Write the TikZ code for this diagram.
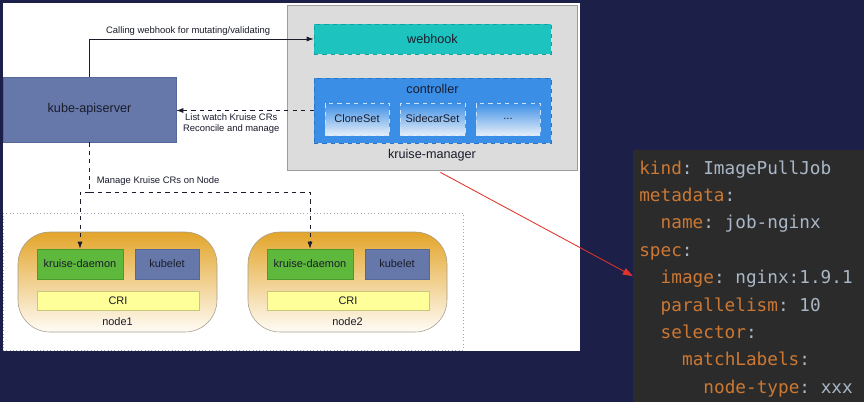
\documentclass[tikz,border=0pt]{standalone}
\usepackage{fontspec}
\setmainfont{Liberation Sans}
\setmonofont{DejaVu Sans Mono}
\usetikzlibrary{fit,arrows.meta}
\definecolor{navy}{HTML}{1C1F47}
\definecolor{ink}{HTML}{1A1C2C}
\definecolor{mgrgray}{HTML}{DCDCDC}
\definecolor{mgrline}{HTML}{9C9C9C}
\definecolor{hook}{HTML}{1CC3BF}
\definecolor{hookline}{HTML}{14A29E}
\definecolor{ctrl}{HTML}{3B8EE6}
\definecolor{ctrlline}{HTML}{2C74C4}
\definecolor{subbot}{HTML}{E4EEF9}
\definecolor{api}{HTML}{6678A9}
\definecolor{apiline}{HTML}{56679A}
\definecolor{daemon}{HTML}{5DB83B}
\definecolor{daemonline}{HTML}{4A9A2E}
\definecolor{cri}{HTML}{FFFF99}
\definecolor{criline}{HTML}{C9C77A}
\definecolor{pilltop}{HTML}{E3A52A}
\definecolor{pillbot}{HTML}{FFFCF6}
\definecolor{pillline}{HTML}{A59C8C}
\definecolor{codebg}{HTML}{2B2B2B}
\definecolor{ykey}{HTML}{CC7832}
\definecolor{yval}{HTML}{A9B7C6}
\definecolor{pointer}{HTML}{E0342A}
\newcommand\ykey[1]{\textcolor{ykey}{#1}}
\newcommand\yval[1]{\textcolor{yval}{#1}}

\begin{document}
\begin{tikzpicture}[x=0.025cm,y=-0.025cm,
  every node/.style={text=ink},
  every label/.style={inner sep=0pt},
  lbl/.style={font=\fontsize{9}{10}\selectfont},
  small/.style={font=\fontsize{7.8}{9}\selectfont},
  note/.style={font=\fontsize{6.7}{8}\selectfont, inner sep=2pt},
  box/.style={inner sep=0pt, draw, line width=0.4pt},
  subbox/.style={box, dashed, draw=white!75!ctrl, top color=ctrl, bottom color=subbot},
  pill/.style={box, draw=pillline, rounded corners=0.8cm, top color=pilltop, bottom color=pillbot},
  daemonbox/.style={box, draw=daemonline, fill=daemon},
  kubeletbox/.style={box, draw=apiline, fill=api},
  cribox/.style={box, draw=criline, fill=cri},
  call/.style={draw=ink, line width=0.5pt, -{Latex[length=5pt,width=3.5pt]}},
  manage/.style={draw=ink, line width=0.5pt, dashed},
  codeline/.style={anchor=base west, inner sep=0pt, font=\fontsize{12.6}{14}\ttfamily}]
\fill[navy] (0,0) rectangle (864,402);
\useasboundingbox (0,0) rectangle (864,402);

% diagram panel
\node[fill=white, inner sep=0pt, fit={(3,3) (580,351)}] (panel) {};
\node[box, draw=mgrline, fill=mgrgray, fit={(287,5) (577,170)},
  label={[lbl, anchor=south, yshift=6pt]south:kruise-manager}] (mgr) {};
\node[box, dashed, draw=hookline, fill=hook, fit={(314,24) (551,54)},
  label={[lbl]center:webhook}] (webhook) {};
\node[box, dashed, draw=ctrlline, fill=ctrl, fit={(314,78) (551,143)},
  label={[lbl, anchor=north, yshift=-4.5pt]north:controller}] (ctrl) {};
\node[subbox, fit={(325,103) (389,135)}, label={[small]center:CloneSet}] (cloneset) {};
\node[subbox, fit={(400,103) (465,135)}, label={[small]center:SidecarSet}] (sidecarset) {};
\node[subbox, fit={(476,103) (540,135)}, label={[small]center:...}] (more) {};
\node[box, draw=apiline, fill=api, fit={(3,77) (176,142)},
  label={[lbl]center:kube-apiserver}] (api) {};

% nodes
\node[box, draw=gray!70, dotted, fit={(3,213) (463,350)}] (cluster) {};
\node[pill, fit={(18,232) (217,332)},
  label={[small, anchor=south, yshift=4.5pt]south:node1}] (node1) {};
\node[daemonbox, fit={(37,249) (123,279)}, label={[small]center:kruise-daemon}] (daemon1) {};
\node[kubeletbox, fit={(135,249) (199,279)}, label={[small]center:kubelet}] (kubelet1) {};
\node[cribox, fit={(37,291) (199,310)}, label={[small]center:CRI}] (cri1) {};
\node[pill, fit={(248,232) (447,332)},
  label={[small, anchor=south, yshift=4.5pt]south:node2}] (node2) {};
\node[daemonbox, fit={(267,249) (353,279)}, label={[small]center:kruise-daemon}] (daemon2) {};
\node[kubeletbox, fit={(365,249) (429,279)}, label={[small]center:kubelet}] (kubelet2) {};
\node[cribox, fit={(267,291) (429,310)}, label={[small]center:CRI}] (cri2) {};

% connectors
\draw[call] (api.north) |- node[note, above, pos=0.72] {Calling webhook for mutating/validating} (webhook.west);
\draw[call, dashed] (ctrl.west) -- node[note, below, pos=0.6, align=center] {List watch Kruise CRs\\Reconcile and manage} (ctrl.west -| api.east);
\coordinate (bus) at (89.5,192);
\draw[manage] (api.south) -- node[note, right, pos=0.78, xshift=3pt] {Manage Kruise CRs on Node} (bus);
\draw[manage, -{Latex[length=5pt,width=3.5pt]}] (bus) -| (daemon1.north);
\draw[manage, -{Latex[length=5pt,width=3.5pt]}] (bus) -| (daemon2.north);

% yaml
\node[fill=codebg, inner sep=0pt, fit={(633,150) (864,402)}] (code) {};
\node[codeline] (l1) at (639,174) {\ykey{kind}\yval{: ImagePullJob}};
\node[codeline] (l2) at (639,201.4) {\ykey{metadata}\yval{:}};
\node[codeline] (l3) at (660.4,228.8) {\ykey{name}\yval{: job-nginx}};
\node[codeline] (l4) at (639,256.2) {\ykey{spec}\yval{:}};
\node[codeline] (l5) at (660.4,283.6) {\ykey{image}\yval{: nginx:1.9.1}};
\node[codeline] (l6) at (660.4,311) {\ykey{parallelism}\yval{: 10}};
\node[codeline] (l7) at (660.4,338.4) {\ykey{selector}\yval{:}};
\node[codeline] (l8) at (681.8,365.8) {\ykey{matchLabels}\yval{:}};
\node[codeline] (l9) at (703.2,393.2) {\ykey{node-type}\yval{: xxx}};

\draw[pointer, line width=0.6pt, -{Triangle[length=7pt,width=5pt]}] ([xshift=6pt,yshift=-1.5pt]mgr.south) -- (code.west);
\end{tikzpicture}
\end{document}
